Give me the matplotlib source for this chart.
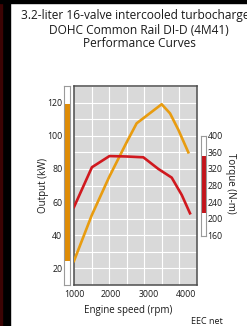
import matplotlib
matplotlib.use("Agg")
import matplotlib.pyplot as plt
from matplotlib.patches import Rectangle
import numpy as np

plt.rcParams['font.family'] = ['Open Sans', 'DejaVu Sans']

# output curve (kW) vs engine speed (rpm)
power_rpm = [1000, 1475, 1940, 2410, 2680, 3350, 3575, 3800, 4065]
power_kw = [24.5, 52, 75, 96, 107.5, 119, 113.5, 103.5, 90]

# torque curve (N-m) vs engine speed (rpm)
torque_rpm = [1000, 1480, 1950, 2400, 2860, 3260, 3620, 3890, 4110]
torque_nm = [228, 324, 351, 350, 348, 320, 299, 257, 213]

speed_ticks = [1000, 2000, 3000, 4000]
output_ticks = [20, 40, 60, 80, 100, 120]
torque_ticks = [160, 200, 240, 280, 320, 360, 400]

title_lines = ["3.2-liter 16-valve intercooled turbocharged",
               "DOHC Common Rail DI-D (4M41)",
               "Performance Curves"]

W, H = 247, 326
ORANGE = '#e89c10'
ORANGE_BAR = '#df8c06'
RED = '#d0191f'
RED_BAR = '#c3141b'
TXT = '#1a1a1a'
FRAME = '#9a9a9a'
XMIN, XMAX = 1000, 4290


def fx(px):
    return px / W


def fy(py):
    return 1 - py / H


fig = plt.figure(figsize=(W / 100, H / 100), dpi=100)
fig.patch.set_facecolor('white')

# black border on the left and top
fig.patches.append(Rectangle((0, 0), fx(10), 1, transform=fig.transFigure,
                             color='black', zorder=0))
fig.patches.append(Rectangle((0, 0), fx(1.5), 1, transform=fig.transFigure,
                             color='#3c0404', zorder=0))
fig.patches.append(Rectangle((0, fy(3)), 1, 3 / H, transform=fig.transFigure,
                             color='black', zorder=0))

# main chart
ax = fig.add_axes([fx(74), fy(285), 122.7 / W, 199 / H])
ax.set_xlim(XMIN, XMAX)
ax.set_ylim(10, 130)
ax.set_facecolor('#d9d9d9')
ax.set_xticks(speed_ticks)
# the chart's grid is 7 equal columns, not tied to the rpm labels
ax.set_xticks(np.linspace(XMIN, XMAX, 8), minor=True)
ax.set_yticks(np.arange(10, 131, 10))
ax.set_yticklabels([])
ax.tick_params(which='both', length=0)
ax.tick_params(axis='x', labelsize=6.3, pad=3.5, colors=TXT)
ax.grid(which='minor', axis='x', color='white', lw=0.8)
ax.grid(which='major', axis='y', color='white', lw=0.8)
ax.set_axisbelow(True)
for s in ax.spines.values():
    s.set_color('#4d4d4d')
    s.set_linewidth(1.1)
ax.plot(power_rpm, power_kw, color=ORANGE, lw=1.9, zorder=3)

ax2 = ax.twinx()
ax2.set_ylim(40, 520)
ax2.set_yticks([])
for s in ax2.spines.values():
    s.set_visible(False)
ax2.plot(torque_rpm, torque_nm, color=RED, lw=1.9, zorder=3)

# output range bar (left)
bl = fig.add_axes([fx(64), fy(285), 6 / W, 199 / H])
bl.set_xlim(0, 1)
bl.set_ylim(10, 130)
bl.bar(0.5, max(power_kw) - min(power_kw), bottom=min(power_kw), width=1,
       color=ORANGE_BAR)
bl.set_xticks([])
bl.set_yticks(output_ticks)
bl.tick_params(axis='y', length=0, pad=1.2, labelsize=6.3, colors=TXT)
for s in bl.spines.values():
    s.set_color(FRAME)
    s.set_linewidth(0.8)

# torque range bar (right)
br = fig.add_axes([fx(201), fy(235.5), 5 / W, 100 / H])
br.set_xlim(0, 1)
br.set_ylim(160, 400)
br.bar(0.5, max(torque_nm) - min(torque_nm), bottom=min(torque_nm), width=1,
       color=RED_BAR)
br.set_xticks([])
br.set_yticks(torque_ticks)
br.yaxis.tick_right()
br.tick_params(axis='y', length=0, pad=1.2, labelsize=6.3, colors=TXT)
for s in br.spines.values():
    s.set_color(FRAME)
    s.set_linewidth(0.8)

# texts
for text, y in zip(title_lines, [16, 30, 43.5]):
    fig.text(fx(139), fy(y), text, ha='center', va='center', fontsize=8.6,
             color=TXT)
fig.text(fx(128), fy(310), 'Engine speed (rpm)', ha='center', va='center',
         fontsize=7, color=TXT)
fig.text(fx(206.7), fy(322), 'EEC net', ha='center', va='center',
         fontsize=6.5, color=TXT)
fig.text(fx(43), fy(185.5), 'Output (kW)', ha='center', va='center',
         rotation=90, fontsize=7, color=TXT)
fig.text(fx(230), fy(183), 'Torque (N-m)', ha='center', va='center',
         rotation=270, fontsize=7, color=TXT)

fig.savefig('out.png', dpi=100)
